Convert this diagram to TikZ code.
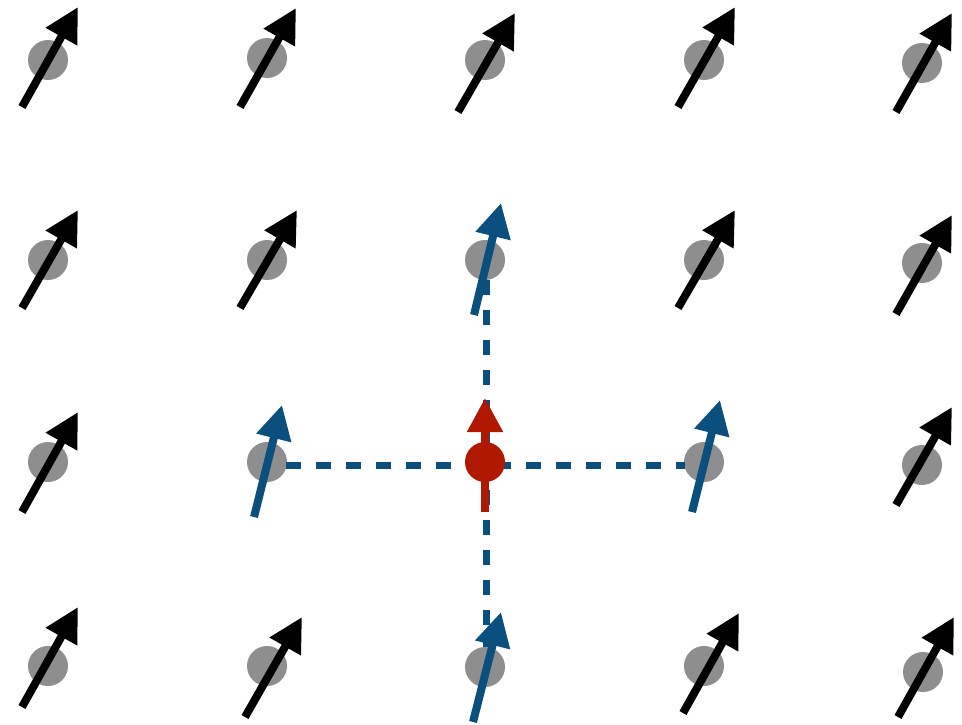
\documentclass[tikz,border=0pt]{standalone}
\usetikzlibrary{arrows.meta}
\definecolor{spingray}{HTML}{8E8E8E}
\definecolor{spinblue}{HTML}{0A4F7E}
\definecolor{spinred}{HTML}{B01800}
\tikzset{
  site/.style={circle,fill=spingray,minimum size=40pt,inner sep=0pt,outer sep=0pt},
  redsite/.style={circle,fill=spinred,minimum size=40pt,inner sep=0pt,outer sep=0pt},
  spin/.style={line width=8pt,-{Triangle[length=34pt,width=34pt]}},
  blackspin/.style={spin,black},
  bluespin/.style={spin,spinblue},
  redspin/.style={spin,spinred},
  bond/.style={spinblue,line width=7pt,dash pattern=on 15pt off 15pt}
}
\begin{document}
\begin{tikzpicture}[x=1pt,y=-1pt]
\useasboundingbox (0,0) rectangle (962,725);
% sites
\node[site] (s11) at (48,60) {};
\node[site] (s12) at (267,58) {};
\node[site] (s13) at (485,60) {};
\node[site] (s14) at (704,60) {};
\node[site] (s15) at (922,63) {};
\node[site] (s21) at (48,260) {};
\node[site] (s22) at (267,260) {};
\node[site] (s23) at (485,260) {};
\node[site] (s24) at (704,260) {};
\node[site] (s25) at (922,263) {};
\node[site] (s31) at (48,462) {};
\node[site] (s32) at (267,462) {};
\node[site] (s34) at (704,462) {};
\node[site] (s35) at (922,465) {};
\node[site] (s41) at (48,666) {};
\node[site] (s42) at (267,666) {};
\node[site] (s43) at (485,667) {};
\node[site] (s44) at (704,666) {};
\node[site] (s45) at (923,672) {};
% bonds
\coordinate (hL) at (286,465);
\coordinate (hR) at (685,465);
\coordinate (vT) at (486,280);
\coordinate (vB) at (486,647);
\draw[bond] (hL) -- (hR);
\draw[bond] (vT) -- (vB);
% red central spin
\node[redsite] (s33) at (485,462) {};
% black spins
\draw[blackspin] (22,107) -- (78,7);
\draw[blackspin] (240,107) -- (296,8);
\draw[blackspin] (458,112) -- (515,13);
\draw[blackspin] (678,107) -- (735,7);
\draw[blackspin] (896,112) -- (952,13);
\draw[blackspin] (22,308) -- (78,210);
\draw[blackspin] (240,308) -- (297,210);
\draw[blackspin] (678,308) -- (735,210);
\draw[blackspin] (896,314) -- (952,215);
\draw[blackspin] (22,512) -- (78,412);
\draw[blackspin] (896,505) -- (952,407);
\draw[blackspin] (22,707) -- (78,607);
\draw[blackspin] (245,717) -- (302,617);
\draw[blackspin] (683,713) -- (739,613);
\draw[blackspin] (898,717) -- (954,617);
% blue spins
\draw[bluespin] (474,315) -- (501,203);
\draw[bluespin] (254,517) -- (282,405);
\draw[bluespin] (692,512) -- (720,400);
\draw[bluespin] (473,722) -- (501,612);
% red spin
\draw[redspin] (485,512) -- (485,398);
\end{tikzpicture}
\end{document}
